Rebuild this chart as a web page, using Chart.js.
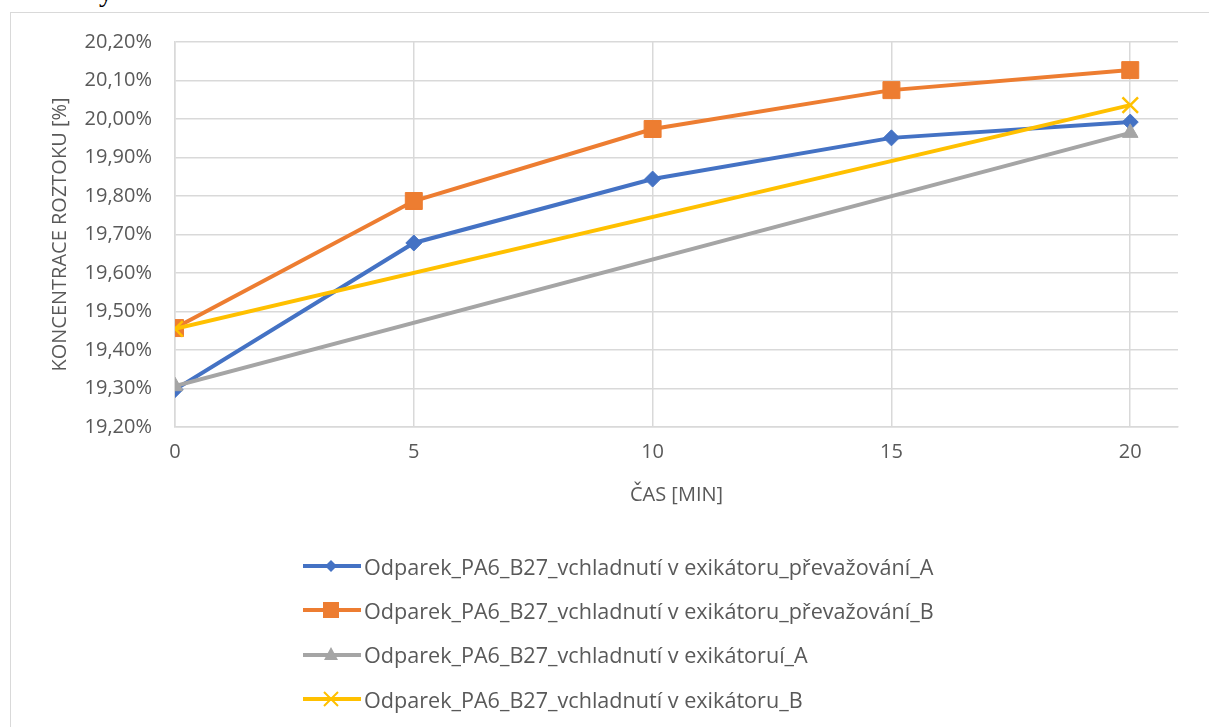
<!DOCTYPE html>
<html>
<head>
<meta charset="utf-8">
<script src="https://cdn.jsdelivr.net/npm/chart.js@4.4.1/dist/chart.umd.min.js"></script>
<style>
  html, body { margin: 0; padding: 0; background: #fff; width: 1209px; height: 727px; overflow: hidden; position: relative; font-family: "Open Sans", "Liberation Sans", sans-serif; }
  #frame { position: absolute; left: 10px; top: 12px; width: 1300px; height: 800px; border: 1.5px solid #d9d9d9; box-sizing: border-box; }
  #wrap { position: absolute; left: 0; top: 0; width: 1209px; height: 727px; }
  #frag { position: absolute; left: 99px; top: -24px; font: 28px "Liberation Serif", serif; color: #000; }
  #legend { position: absolute; left: 303px; top: 544px; }
  .row { display: flex; align-items: center; height: 44.3px; }
  .row svg { display: block; margin-right: 3px; }
  .row span { font-size: 21.6px; color: #595959; white-space: nowrap; }
</style>
</head>
<body>
<div id="frag">y</div>
<div id="frame"></div>
<div id="wrap"><canvas id="c" width="1209" height="727"></canvas></div>
<div id="legend"></div>
<script>
// ---- data ----
const seriesNames = [
  "Odparek_PA6_B27_vchladnutí v exikátoru_převažování_A",
  "Odparek_PA6_B27_vchladnutí v exikátoru_převažování_B",
  "Odparek_PA6_B27_vchladnutí v exikátoruí_A",
  "Odparek_PA6_B27_vchladnutí v exikátoru_B"
];
const timeAB = [0, 5, 10, 15, 20];
const valuesA = [19.297, 19.678, 19.844, 19.951, 19.992];
const valuesB = [19.457, 19.787, 19.974, 20.075, 20.127];
const timeShort = [0, 20];
const valuesCoolA = [19.306, 19.964];
const valuesCoolB = [19.455, 20.036];
const xTicks = [0, 5, 10, 15, 20];
const yAxisTitle = "KONCENTRACE ROZTOKU [%]";
const xAxisTitle = "ČAS [MIN]";

const colors = ["#4472C4", "#ED7D31", "#A5A5A5", "#FFC000"];
const styles = ["rectRot", "rect", "triangle", "crossRot"];
const radii = [8, 12, 9, 11];

function pts(xs, ys) { return xs.map((x, i) => ({ x: x, y: ys[i] })); }

const datasets = [
  { label: seriesNames[0], data: pts(timeAB, valuesA), order: 3 },
  { label: seriesNames[1], data: pts(timeAB, valuesB), order: 2 },
  { label: seriesNames[2], data: pts(timeShort, valuesCoolA), order: 1 },
  { label: seriesNames[3], data: pts(timeShort, valuesCoolB), order: 0 }
].map((d, i) => Object.assign(d, {
  borderColor: colors[i],
  backgroundColor: colors[i],
  pointBackgroundColor: colors[i],
  pointBorderColor: colors[i],
  pointStyle: styles[i],
  pointRadius: radii[i],
  pointBorderWidth: i === 3 ? 2.5 : 1,
  borderWidth: 4,
  tension: 0,
  showLine: true,
  fill: false
}));

const FONT = "'Open Sans', 'Liberation Sans', sans-serif";
const TXT = "#595959";
const GRID = "#d9d9d9";

const chart = new Chart(document.getElementById('c'), {
  type: 'scatter',
  data: { datasets: datasets },
  options: {
    responsive: false,
    animation: false,
    events: [],
    layout: { padding: { left: 40, top: 42, right: 31, bottom: 200 } },
    plugins: { legend: { display: false }, tooltip: { enabled: false } },
    scales: {
      x: {
        type: 'linear', min: 0, max: 21,
        afterBuildTicks: s => { s.ticks = xTicks.map(v => ({ value: v })); },
        afterFit: s => { s.height = 100; },
        grid: { color: GRID, lineWidth: 1.5, drawTicks: false },
        border: { color: GRID, width: 1.5 },
        ticks: { color: TXT, font: { family: FONT, size: 20 }, padding: 13, maxRotation: 0 },
        title: { display: true, text: xAxisTitle, color: TXT, font: { family: FONT, size: 20 }, padding: { top: 4, bottom: 20 } }
      },
      y: {
        type: 'linear', min: 19.2, max: 20.2,
        afterFit: s => { s.width = 135; },
        grid: { color: GRID, lineWidth: 1.5, drawTicks: false },
        border: { color: GRID, width: 1.5 },
        ticks: {
          stepSize: 0.1, color: TXT, font: { family: FONT, size: 20 }, padding: 23,
          callback: v => v.toFixed(2).replace('.', ',') + '%'
        },
        title: { display: true, text: yAxisTitle, color: TXT, font: { family: FONT, size: 20 }, padding: { top: 8, bottom: 0 } }
      }
    }
  }
});

// ---- HTML legend built from the datasets ----
const legend = document.getElementById('legend');
chart.data.datasets.forEach((d, i) => {
  const row = document.createElement('div');
  row.className = 'row';
  const c = d.borderColor;
  let marker = '';
  if (d.pointStyle === 'rectRot') marker = `<polygon points="28,4 34,10 28,16 22,10" fill="${c}"/>`;
  else if (d.pointStyle === 'rect') marker = `<rect x="20" y="2" width="16" height="16" fill="${c}"/>`;
  else if (d.pointStyle === 'triangle') marker = `<polygon points="28,2 35,15 21,15" fill="${c}"/>`;
  else marker = `<path d="M21,3 L35,17 M35,3 L21,17" stroke="${c}" stroke-width="2"/>`;
  row.innerHTML = `<svg width="58" height="20"><line x1="0" y1="10" x2="58" y2="10" stroke="${c}" stroke-width="4"/>${marker}</svg><span>${d.label}</span>`;
  legend.appendChild(row);
});
</script>
</body>
</html>
